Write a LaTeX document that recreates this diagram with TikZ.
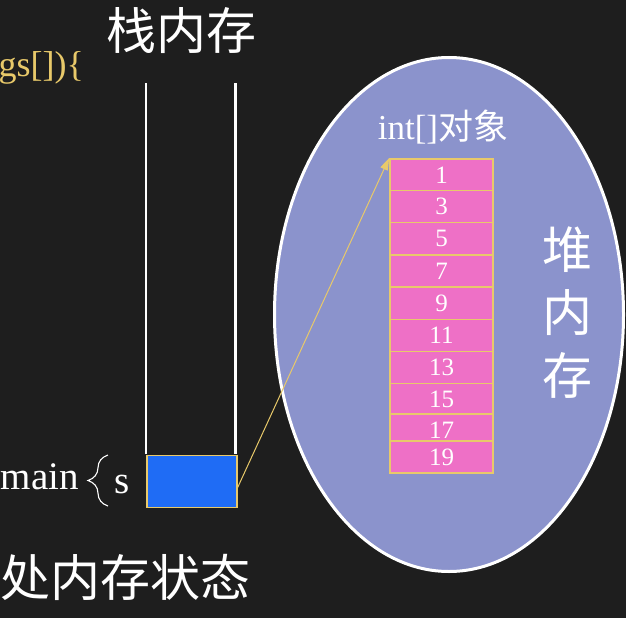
\documentclass[tikz,border=0pt]{standalone}
\usepackage{fontspec}
\setmainfont{Liberation Serif}
\newfontfamily\mycjkfont{Noto Sans CJK SC}
\usetikzlibrary{decorations.pathreplacing,arrows.meta,shapes.geometric}
\definecolor{bgc}{HTML}{1E1E1E}
\definecolor{ylw}{HTML}{E8C96A}
\definecolor{heapc}{HTML}{8B93CC}
\definecolor{cellc}{HTML}{EE70C6}
\definecolor{bluec}{HTML}{1F6CF5}
\tikzset{
  cjktext/.style={text=white, font={\mycjkfont\fontsize{50pt}{54pt}\selectfont}, inner sep=0pt},
  serif/.style={text=white, inner sep=0pt},
  cellbox/.style={draw=ylw, line width=1.8pt, fill=cellc, minimum width=103pt, minimum height=32pt, inner sep=0pt, text=white, font={\fontsize{25pt}{27pt}\selectfont}},
  stackline/.style={white, line width=2.5pt},
}
\begin{document}
\begin{tikzpicture}[x=1pt,y=-1pt]
\useasboundingbox (0,0) rectangle (626,618);
\fill[bgc] (0,0) rectangle (626,618);
% top-left code
\node[anchor=base east, text=ylw, inner sep=0pt, font={\fontsize{36pt}{38pt}\selectfont}] (code) at (84,77) {gs[])\{};
% stack title
\node[cjktext, anchor=center] (stacktitle) at (181,31) {栈内存};
% stack walls
\coordinate (lt) at (146,83);
\coordinate (lb) at (146,454);
\coordinate (rt) at (235.5,83);
\coordinate (rb) at (235.5,454);
\draw[stackline] (lt) -- (lb);
\draw[stackline] (rt) -- (rb);
% s box
\node[draw=ylw, line width=1.5pt, fill=bluec, minimum width=90pt, minimum height=52pt, inner sep=0pt, anchor=north west] (sbox) at (146,454.5) {};
% main { s
\node[serif, anchor=base east, font={\fontsize{39pt}{41pt}\selectfont}] (main) at (79,489) {main};
\node[serif, anchor=base west, font={\fontsize{39pt}{41pt}\selectfont}] (s) at (114,493) {s};
\coordinate (bt) at (108,455);
\coordinate (bb) at (108,506);
\draw[white, line width=1.1pt, decorate, decoration={brace, amplitude=20pt, aspect=0.5}] (bb) -- (bt);
% bottom text
\node[cjktext, anchor=west] (state) at (0,577) {处内存状态};
% heap
\node[draw=white, line width=3pt, fill=heapc, ellipse, minimum width=349pt, minimum height=514pt, inner sep=0pt] (heap) at (449,314.5) {};
\node[serif, anchor=base, font={\fontsize{35pt}{37pt}\selectfont}] (objlabel) at (443,139) {int[]{\mycjkfont 对象}};
% cells
\foreach \v/\y [count=\i] in {1/175,3/206.5,5/238.5,7/271,9/303.5,11/335.5,13/367.5,15/399.5,17/430,19/457}{
  \node[cellbox] (c\i) at (441.5,\y) {\v};
}
% heap vertical label
\node[cjktext] (h1) at (567,250) {堆};
\node[cjktext] (h2) at (567,313) {内};
\node[cjktext] (h3) at (567,375) {存};
% arrow
\coordinate (astart) at (236.5,490);
\draw[ylw, line width=1pt, -{Triangle[length=12pt,width=8pt]}] (astart) -- (c1.north west);
\end{tikzpicture}
\end{document}
